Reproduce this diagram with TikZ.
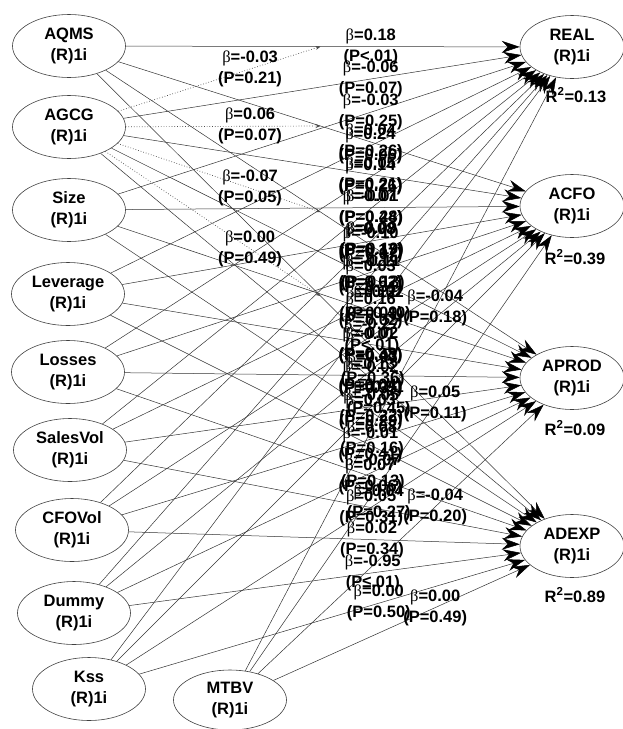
\documentclass[tikz,border=0pt]{standalone}
\usepackage{fontspec}
\setmainfont{Liberation Sans}
\newfontfamily\betaf{Liberation Serif}
\usetikzlibrary{arrows.meta,calc,shapes.geometric}
\begin{document}
\begin{tikzpicture}[x=1pt,y=-1pt,
  var/.style={ellipse, draw=black!75, line width=0.6pt, minimum width=113pt, minimum height=63pt, inner sep=0pt, align=center, font=\bfseries\fontsize{16.5}{21}\selectfont},
  dep/.style={var, minimum width=104pt},
  pth/.style={draw=black!80, line width=0.5pt, -{Stealth[length=18pt,width=12pt,inset=6pt,black]}},
  modpath/.style={draw=black!70, line width=0.7pt, dotted, -{Stealth[length=5pt,width=4pt]}},
  lab/.style={align=center, inner sep=0pt, font=\bfseries\fontsize{16.5}{21}\selectfont},
  rsq/.style={inner sep=0pt, font=\bfseries\fontsize{16.5}{18}\selectfont}]
\useasboundingbox (0,0) rectangle (622,729);
\fill[white] (0,0) rectangle (622,729);
% predictors
\node[var] (AQMS) at (69,46) {AQMS\\(R)1i};
\node[var] (AGCG) at (69,127) {AGCG\\(R)1i};
\node[var] (Size) at (69,210) {Size\\(R)1i};
\node[var] (Leverage) at (68,294) {Leverage\\(R)1i};
\node[var] (Losses) at (68,372) {Losses\\(R)1i};
\node[var] (SalesVol) at (70,450) {SalesVol\\(R)1i};
\node[var] (CFOVol) at (72,530) {CFOVol\\(R)1i};
\node[var] (Dummy) at (74,613) {Dummy\\(R)1i};
\node[var] (Kss) at (89,689) {Kss\\(R)1i};
\node[var, minimum height=60pt] (MTBV) at (230,700) {MTBV\\(R)1i};
% dependents
\node[dep] (REAL) at (572,47) {REAL\\(R)1i};
\node[dep] (ACFO) at (572,206) {ACFO\\(R)1i};
\node[dep] (APROD) at (572,378) {APROD\\(R)1i};
\node[dep] (ADEXP) at (572,546) {ADEXP\\(R)1i};
\node[rsq] (r2real) at (576,95) {R\textsuperscript{2}=0.13};
\node[rsq] (r2acfo) at (575,257) {R\textsuperscript{2}=0.39};
\node[rsq] (r2aprod) at (575,428) {R\textsuperscript{2}=0.09};
\node[rsq] (r2adexp) at (575,595) {R\textsuperscript{2}=0.89};
% direct paths
\foreach \s in {AQMS,AGCG,Size,Leverage,Losses,SalesVol,CFOVol,Dummy,Kss,MTBV}
  \foreach \t in {REAL,ACFO,APROD,ADEXP}
    \draw[pth] (\s) -- (\t);
% moderating effects of AGCG on AQMS paths
\foreach \t/\b/\p in {REAL/-0.03/=0.21, ACFO/0.06/=0.07, APROD/-0.07/=0.05, ADEXP/0.00/=0.49}{
  \coordinate (m\t) at ($(AQMS.center)!0.5!(\t.center)$);
  \draw[modpath] (AGCG) -- (m\t);
  \node[lab] (mod\t) at ($(AGCG.center)!0.72!(m\t)$) {{\betaf\mdseries β}=\b\\(P\p)};
}
% path labels
\foreach \s/\t/\b/\p in {
  AQMS/REAL/0.18/<.01, AGCG/REAL/-0.06/=0.07, Size/REAL/-0.03/=0.25, Leverage/REAL/0.24/=0.06,
  Losses/REAL/0.14/=0.26, SalesVol/REAL/0.07/=0.28, CFOVol/REAL/0.09/=0.19, Dummy/REAL/-0.11/=0.13,
  Kss/REAL/0.02/=0.40, MTBV/REAL/-0.04/=0.18,
  AQMS/ACFO/0.04/=0.26, AGCG/ACFO/0.05/=0.21, Size/ACFO/-0.01/=0.44, Leverage/ACFO/0.08/=0.17,
  Losses/ACFO/-0.19/=0.02, SalesVol/ACFO/0.12/=0.09, CFOVol/ACFO/-0.27/<.01, Dummy/ACFO/0.03/=0.36,
  Kss/ACFO/0.01/=0.45, MTBV/ACFO/0.05/=0.11,
  AQMS/APROD/-0.10/=0.07, AGCG/APROD/0.03/=0.31, Size/APROD/0.16/=0.02, Leverage/APROD/-0.02/=0.38,
  Losses/APROD/0.13/=0.04, SalesVol/APROD/-0.05/=0.22, CFOVol/APROD/0.08/=0.16, Dummy/APROD/-0.07/=0.13,
  Kss/APROD/0.04/=0.27, MTBV/APROD/-0.04/=0.20,
  AQMS/ADEXP/0.01/=0.43, AGCG/ADEXP/-0.02/=0.35, Size/ADEXP/0.03/=0.29, Leverage/ADEXP/-0.01/=0.41,
  Losses/ADEXP/0.07/=0.06, SalesVol/ADEXP/0.05/=0.31, CFOVol/ADEXP/0.02/=0.34, Dummy/ADEXP/-0.95/≤.01,
  Kss/ADEXP/0.00/=0.50, MTBV/ADEXP/0.00/=0.49}
  \node[lab] (L\s\t) at ($(\s.center)!0.6!(\t.center)$) {{\betaf\mdseries β}=\b\\(P\p)};
\end{tikzpicture}
\end{document}
